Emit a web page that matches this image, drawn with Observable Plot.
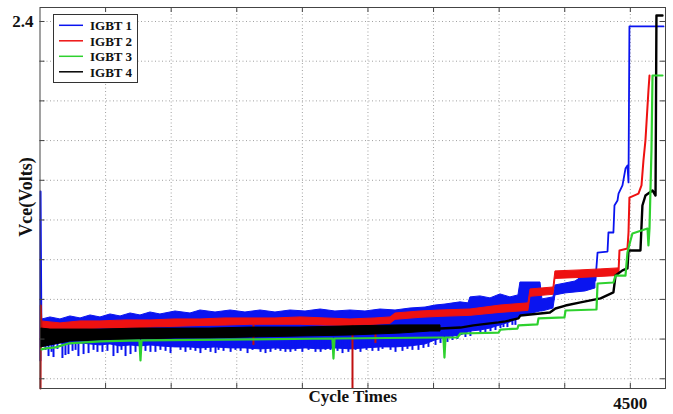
<!DOCTYPE html>
<html><head><meta charset="utf-8">
<script src="https://cdn.jsdelivr.net/npm/d3@7"></script>
<script src="https://cdn.jsdelivr.net/npm/@observablehq/plot@0.6"></script>
<style>
body{margin:0;background:#fff;}
#wrap{position:relative;width:673px;height:414px;font-family:"Liberation Serif","Times New Roman",serif;}
#legend{position:absolute;left:53px;top:14px;}
</style></head><body><div id="wrap"></div>
<script>
const seriesNames = ["IGBT 1","IGBT 2","IGBT 3","IGBT 4"];
const seriesColors = ["#0a14f0","#ee1111","#2ed12e","#000000"];
const xTicks = [500,1000,1500,2000,2500,3000,3500,4000,4500];
const yTicks = [0.6,0.8,1.0,1.2,1.4,1.6,1.8,2.0,2.2,2.4];
const xLabelTicks = [4500];
const yLabelTicks = [2.4];
const xTitle = "Cycle Times";
const yTitle = "Vce(Volts)";

// IGBT 1 (blue): noisy band envelope, downward spikes, start spike, tail
const blueBandCycle = [19,80,156,232,309,385,461,537,614,690,766,842,918,1033,1147,1223,1338,1453,1566,1681,1795,1909,2024,2139,2252,2367,2481,2595,2710,2824,2939,3015,3091,3205,3266,3281,3357,3434,3510,3586,3647,3662,3815,3830,3914,3929,4006,4082,4158,4234];
const blueBandHigh = [0.899,0.909,0.899,0.914,0.904,0.919,0.909,0.924,0.914,0.929,0.919,0.934,0.924,0.939,0.929,0.944,0.934,0.944,0.934,0.944,0.934,0.944,0.939,0.949,0.939,0.944,0.939,0.949,0.944,0.954,0.959,0.969,0.974,0.985,0.980,1.010,1.015,1.005,1.025,1.010,1.020,1.085,1.085,1.000,1.010,1.070,1.080,1.090,1.125,1.136];
const blueBandLow = [0.783,0.768,0.778,0.773,0.778,0.773,0.768,0.773,0.763,0.768,0.763,0.768,0.763,0.758,0.758,0.753,0.758,0.753,0.753,0.748,0.753,0.748,0.753,0.748,0.753,0.748,0.753,0.758,0.758,0.763,0.773,0.793,0.808,0.818,0.833,0.838,0.843,0.853,0.869,0.884,0.904,0.914,0.939,0.939,0.954,1.020,1.030,1.035,1.040,1.055];
const blueSpikeCycle = [65,103,171,217,293,370,476,560,652,728,804,880,995,1147,1223,1300,1399,1582,1681,1757,1833,1909,2000,2100,2214,2306,2351,2534,2611,2763,2839,2961,3106,3182,3357,3434,3510,3563,3624,
  42,88,133,194,248,271,332,408,438,514,591,621,690,766,842,918,957,1071,1109,1185,1262,1338,1361,1453,1490,1529,1620,1719,1795,1871,1947,2047,2139,2176,2268,2405,2443,2489,2580,2672,2710,2801,2885,2923,3015,3053,3144,3243,3281,3395,3472,3533,3601];
const blueSpikeTip = [0.712,0.707,0.702,0.722,0.712,0.727,0.733,0.712,0.712,0.733,0.738,0.733,0.727,0.743,0.727,0.733,0.738,0.727,0.733,0.733,0.738,0.733,0.733,0.733,0.743,0.727,0.733,0.738,0.748,0.738,0.743,0.758,0.783,0.798,0.828,0.838,0.853,0.858,0.869,
  0.743,0.733,0.748,0.717,0.738,0.743,0.722,0.743,0.733,0.738,0.727,0.743,0.722,0.743,0.733,0.743,0.738,0.743,0.733,0.738,0.743,0.727,0.743,0.733,0.743,0.738,0.743,0.727,0.743,0.733,0.738,0.743,0.733,0.743,0.738,0.743,0.733,0.743,0.738,0.743,0.733,0.748,0.743,0.753,0.768,0.778,0.793,0.808,0.813,0.833,0.843,0.858,0.869];
const blueSpikeBase = [0.80,0.80,0.80,0.80,0.80,0.80,0.80,0.80,0.80,0.80,0.80,0.80,0.80,0.80,0.80,0.80,0.80,0.80,0.80,0.80,0.80,0.80,0.80,0.80,0.80,0.80,0.80,0.80,0.80,0.80,0.80,0.80,0.85,0.85,0.90,0.90,0.90,0.90,0.90,
  0.80,0.80,0.80,0.80,0.80,0.80,0.80,0.80,0.80,0.80,0.80,0.80,0.80,0.80,0.80,0.80,0.80,0.80,0.80,0.80,0.80,0.80,0.80,0.80,0.80,0.80,0.80,0.80,0.80,0.80,0.80,0.80,0.80,0.80,0.80,0.80,0.80,0.80,0.80,0.80,0.80,0.80,0.80,0.80,0.80,0.85,0.85,0.90,0.90,0.90,0.90,0.90,0.90];
const blueStartCycle = [3,4,11];
const blueStartV = [0.692,1.544,0.768];
const blueTailCycle = [4234,4250,4326,4333,4371,4379,4402,4410,4440,4463,4478,4486,4493,4753];
const blueTailV = [1.095,1.236,1.241,1.337,1.337,1.473,1.498,1.533,1.574,1.659,1.675,1.589,2.375,2.375];

// IGBT 2 (red)
const redBandCycle = [11,80,156,309,461,652,842,1033,1223,1414,1604,1795,1986,2176,2367,2557,2672,2710,2900,3053,3281,3510,3723,3739,3914,3929,4120,4273,4410];
const redBandHigh = [0.889,0.884,0.879,0.889,0.889,0.894,0.894,0.899,0.899,0.904,0.904,0.904,0.909,0.904,0.899,0.904,0.909,0.929,0.939,0.944,0.949,0.969,0.980,1.050,1.060,1.141,1.146,1.151,1.156];
const redBandLow = [0.833,0.838,0.843,0.848,0.853,0.853,0.858,0.862,0.866,0.868,0.872,0.872,0.872,0.868,0.866,0.872,0.877,0.897,0.907,0.912,0.917,0.932,0.942,1.013,1.023,1.103,1.108,1.113,1.118];
const redSpikeCycle = [1627,2382,2557];
const redSpikeTip = [0.768,0.551,0.778];
const redSpikeBase = [0.869,0.869,0.869];
const redStartCycle = [4,6,11];
const redStartV = [0.551,0.969,0.860];
const redTailCycle = [4410,4417,4478,4486,4493,4562,4585,4600,4615,4638,4646];
const redTailV = [1.136,1.246,1.256,1.337,1.513,1.533,1.574,1.700,1.800,2.052,2.128];

// IGBT 4 (black)
const blackBandCycle = [11,80,232,461,766,1033,1300,1604,1986,2367,2748,2976,3053];
const blackBandHigh = [0.853,0.848,0.848,0.848,0.853,0.853,0.853,0.858,0.858,0.864,0.869,0.869,0.869];
const blackBandLow = [0.758,0.768,0.788,0.793,0.798,0.803,0.803,0.808,0.813,0.818,0.828,0.838,0.838];
const blackTailCycle = [3053,3205,3304,3495,3548,3647,3662,3887,3929,4006,4120,4273,4371,4387,4440,4478,4486,4577,4592,4615,4669,4692,4699,4745];
const blackTailV = [0.853,0.858,0.869,0.884,0.889,0.904,0.919,0.934,0.954,0.969,0.985,1.005,1.035,1.120,1.146,1.156,1.246,1.246,1.473,1.523,1.549,1.523,2.430,2.430];

// IGBT 3 (green)
const greenCycle = [11,42,118,217,461,758,766,774,1604,2229,2237,2245,3053,3075,3083,3091,3182,3205,3495,3510,3640,3647,3792,3800,3998,4006,4242,4250,4371,4387,4463,4478,4501,4516,4631,4638,4646,4661,4669,4745];
const greenV = [0.748,0.753,0.758,0.778,0.788,0.793,0.692,0.793,0.798,0.803,0.702,0.803,0.808,0.808,0.707,0.808,0.808,0.828,0.833,0.848,0.853,0.869,0.874,0.904,0.909,0.944,0.949,1.080,1.085,1.120,1.120,1.236,1.297,1.332,1.357,1.272,1.357,1.750,2.128,2.128];

const xDomain = [0, 4768];
const yDomain = [0.551, 2.4705];

const band = (c, hi, lo) => c.map((x, i) => ({x, hi: hi[i], lo: lo[i]}));
const line = (c, v) => c.map((x, i) => ({x, y: v[i]}));
const spikes = (c, tip, base) => c.map((x, i) => ({x, tip: tip[i], base: base[i]}));

const W = 673, H = 414, mL = 39.5, mR = 8, mT = 7, mB = 26;
const fw = W - mL - mR, fh = H - mT - mB;
const [cB, cR, cG, cK] = seriesColors;

const chart = Plot.plot({
  width: W, height: H,
  marginLeft: mL, marginRight: mR, marginTop: mT, marginBottom: mB,
  x: {domain: xDomain},
  y: {domain: yDomain},
  style: {fontFamily: "'Liberation Serif', 'Times New Roman', serif", fontSize: "17px", fontWeight: "bold", color: "#111", background: "white", overflow: "visible"},
  marks: [
    Plot.gridX(xTicks, {stroke: "#a0a0a0", strokeOpacity: 1, strokeDasharray: "1,2.5"}),
    Plot.gridY(yTicks, {stroke: "#a0a0a0", strokeOpacity: 1, strokeDasharray: "1,2.5"}),
    // IGBT 1
    Plot.areaY(band(blueBandCycle, blueBandHigh, blueBandLow), {x: "x", y1: "lo", y2: "hi", fill: cB, stroke: cB, strokeWidth: 1}),
    Plot.ruleX(spikes(blueSpikeCycle, blueSpikeTip, blueSpikeBase), {x: "x", y1: "tip", y2: "base", stroke: cB, strokeWidth: 2}),
    Plot.line(line(blueStartCycle, blueStartV), {x: "x", y: "y", stroke: cB, strokeWidth: 2}),
    Plot.line(line(blueTailCycle, blueTailV), {x: "x", y: "y", stroke: cB, strokeWidth: 1.8}),
    // IGBT 2
    Plot.areaY(band(redBandCycle, redBandHigh, redBandLow), {x: "x", y1: "lo", y2: "hi", fill: cR, stroke: cR, strokeWidth: 1}),
    Plot.ruleX(spikes(redSpikeCycle, redSpikeTip, redSpikeBase), {x: "x", y1: "tip", y2: "base", stroke: "#c01010", strokeWidth: 2}),
    Plot.line(line(redStartCycle, redStartV), {x: "x", y: "y", stroke: "#c01010", strokeWidth: 2}),
    Plot.line(line(redTailCycle, redTailV), {x: "x", y: "y", stroke: cR, strokeWidth: 2}),
    // IGBT 4
    Plot.areaY(band(blackBandCycle, blackBandHigh, blackBandLow), {x: "x", y1: "lo", y2: "hi", fill: cK, stroke: cK, strokeWidth: 1}),
    Plot.line(line(blackTailCycle, blackTailV), {x: "x", y: "y", stroke: cK, strokeWidth: 2.4}),
    // IGBT 3
    Plot.line(line(greenCycle, greenV), {x: "x", y: "y", stroke: cG, strokeWidth: 2.2}),
    // frame and inward ticks
    Plot.frame({stroke: "#444"}),
    Plot.ruleX(xTicks, {stroke: "#444", insetTop: fh - 5}),
    Plot.ruleX(xTicks, {stroke: "#444", insetBottom: fh - 5}),
    Plot.ruleY(yTicks, {stroke: "#444", insetRight: fw - 5}),
    Plot.ruleY(yTicks, {stroke: "#444", insetLeft: fw - 5}),
    Plot.axisX(xLabelTicks, {tickSize: 0, tickPadding: 8, label: null, tickFormat: d => String(d)}),
    Plot.axisY(yLabelTicks, {tickSize: 0, tickPadding: 6.5, label: null, tickFormat: d => d.toFixed(1)}),
    Plot.text([xTitle], {text: d => d, frameAnchor: "bottom", textAnchor: "middle", dy: 13, fontSize: 17}),
    Plot.text([yTitle], {text: d => d, frameAnchor: "left", textAnchor: "middle", rotate: -90, dx: -14, dy: -1, fontSize: 18})
  ]
});

const wrap = document.getElementById("wrap");
wrap.appendChild(chart);

// legend inside plot area
const lg = d3.create("svg").attr("id", "legend").attr("width", 85).attr("height", 69)
  .style("font-family", "'Liberation Serif','Times New Roman',serif");
lg.append("rect").attr("x", 0.5).attr("y", 0.5).attr("width", 84).attr("height", 68)
  .attr("fill", "white").attr("stroke", "#333");
seriesNames.forEach((name, i) => {
  const cy = 11.3 + i * 15.5;
  lg.append("line").attr("x1", 6).attr("x2", 30).attr("y1", cy).attr("y2", cy)
    .attr("stroke", seriesColors[i]).attr("stroke-width", 1.5);
  lg.append("text").attr("x", 37).attr("y", cy + 4.8).text(name)
    .attr("font-size", 13).attr("font-weight", "bold").attr("fill", "#111");
});
wrap.appendChild(lg.node());
</script></body></html>
